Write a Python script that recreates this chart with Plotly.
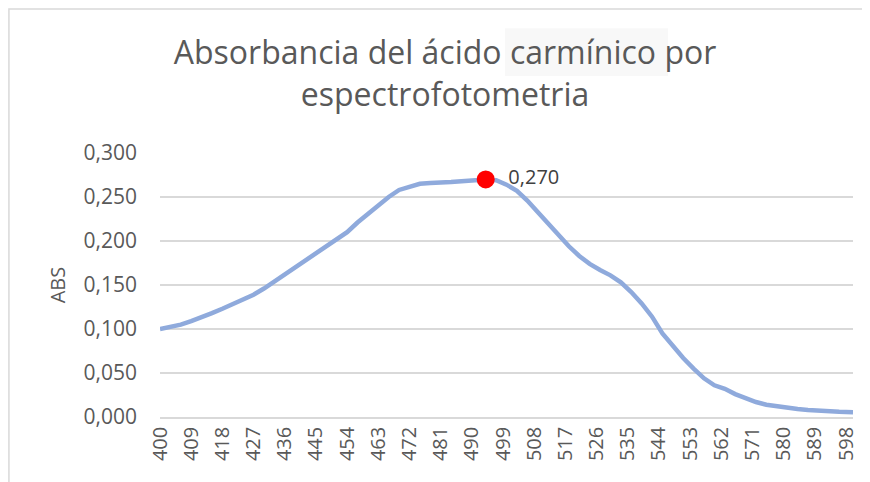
import plotly.graph_objects as go

longitud_onda = [400, 403, 406, 409, 412, 415, 418, 421, 424, 427,
                 430, 433, 436, 439, 442, 445, 448, 451, 454, 457,
                 460, 463, 466, 469, 472, 475, 478, 481, 484, 487,
                 490, 494, 497, 500, 503, 506, 509, 512, 515, 518,
                 521, 524, 527, 530, 533, 536, 539, 542, 545, 548,
                 551, 554, 557, 560, 563, 566, 569, 572, 575, 578,
                 581, 584, 587, 590, 593, 596, 600]
absorbancia = [0.100, 0.102, 0.105, 0.109, 0.113, 0.118, 0.123, 0.128, 0.134, 0.139,
               0.146, 0.154, 0.161, 0.169, 0.177, 0.185, 0.193, 0.201, 0.210, 0.221,
               0.231, 0.240, 0.250, 0.258, 0.262, 0.265, 0.266, 0.266, 0.267, 0.268,
               0.269, 0.270, 0.269, 0.264, 0.257, 0.246, 0.233, 0.220, 0.207, 0.194,
               0.183, 0.174, 0.167, 0.161, 0.153, 0.142, 0.129, 0.114, 0.095, 0.081,
               0.067, 0.055, 0.044, 0.036, 0.032, 0.026, 0.021, 0.017, 0.014, 0.012,
               0.010, 0.009, 0.008, 0.007, 0.0065, 0.006, 0.0055]

# Máximo de absorbancia
pico_x = [494]
pico_y = [0.270]

# Etiquetas del eje x (cada 9 nm)
ticks_x = [400, 409, 418, 427, 436, 445, 454, 463, 472, 481, 490, 499,
           508, 517, 526, 535, 544, 553, 562, 571, 580, 589, 598]

fuente = "Open Sans, Noto Sans, sans-serif"
gris = "#595959"

fig = go.Figure()

fig.add_trace(go.Scatter(x=longitud_onda, y=absorbancia, mode="lines",
                         line=dict(color="#8faadc", width=4.5),
                         showlegend=False, hoverinfo="x+y"))

fig.add_trace(go.Scatter(x=pico_x, y=pico_y, mode="markers+text",
                         marker=dict(color="#ff0000", size=18),
                         text=["  " + f"{v:.3f}".replace(".", ",") for v in pico_y],
                         textposition="middle right",
                         textfont=dict(family=fuente, size=20, color="#404040"),
                         showlegend=False))

# la página tiene 8 px de margen en el body: la figura se ajusta a 862x474
fig.update_layout(
    width=862, height=474,
    margin=dict(l=152, r=17, t=145, b=65),
    paper_bgcolor="white", plot_bgcolor="white",
    separators=",.",
    title=dict(text="Absorbancia del ácido carmínico por<br>espectrofotometria",
               x=0.507, xanchor="center", xref="container",
               y=0.882, yanchor="top", yref="container",
               font=dict(family=fuente, size=32, color=gris)),
    xaxis=dict(range=[400, 600], tickmode="array", tickvals=ticks_x,
               ticktext=[str(t) for t in ticks_x], tickangle=-90,
               showgrid=False, zeroline=False, showline=True,
               linecolor="#d9d9d9", linewidth=1.5, ticks="",
               tickfont=dict(family=fuente, size=20, color=gris)),
    yaxis=dict(range=[0, 0.3], dtick=0.05, tickformat=".3f",
               showgrid=True, gridcolor="#d9d9d9", gridwidth=1.5,
               zeroline=False, showline=False, ticks="",
               ticklen=0, ticklabelstandoff=22,
               title=dict(text="ABS", standoff=12,
                          font=dict(family=fuente, size=20, color=gris)),
               tickfont=dict(family=fuente, size=21, color=gris)),
    shapes=[
        dict(type="rect", xref="paper", yref="paper",
             x0=-0.218, x1=1.05, y0=-0.3, y1=1.545,
             line=dict(color="#d9d9d9", width=1.5), fillcolor="rgba(0,0,0,0)",
             layer="below"),
        dict(type="rect", xref="paper", yref="paper",
             x0=0.498, x1=0.733, y0=1.292, y1=1.473,
             line=dict(width=0), fillcolor="#f8f8f8", layer="below"),
    ],
)

fig.write_html("out.html")
